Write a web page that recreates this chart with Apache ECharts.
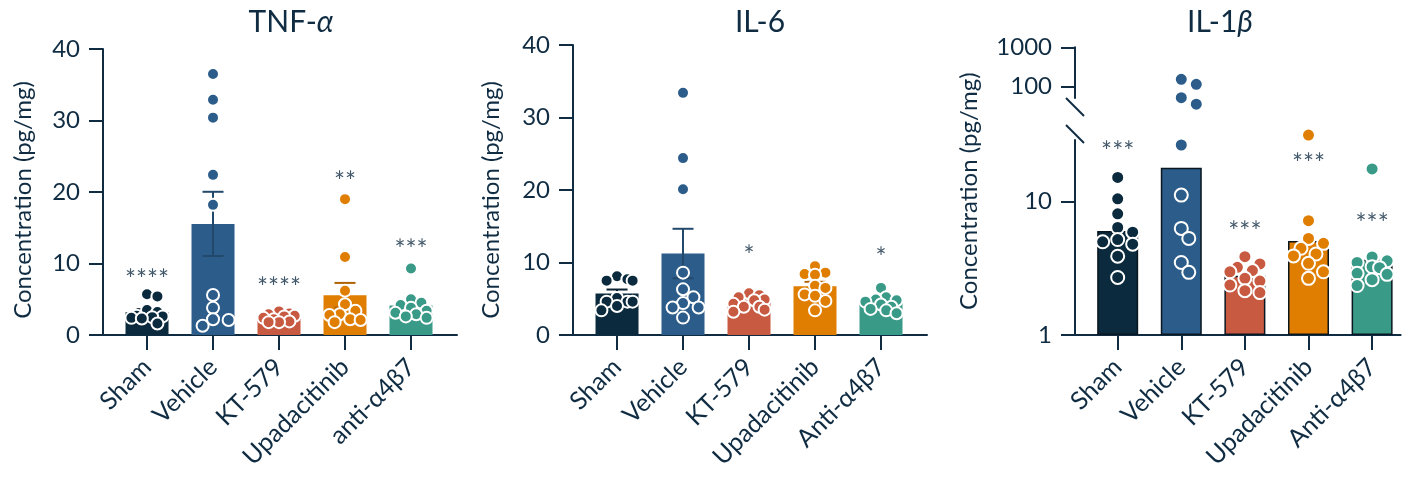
<!DOCTYPE html>
<html>
<head>
<meta charset="utf-8">
<script src="https://cdn.jsdelivr.net/npm/echarts@6/dist/echarts.min.js"></script>
<style>
  html, body { margin: 0; padding: 0; background: #ffffff; }
  #chart { width: 1406px; height: 482px; }
</style>
</head>
<body>
<div id="chart"></div>
<script>
// ---- data ----
const groups = ['Sham', 'Vehicle', 'KT-579', 'Upadacitinib', 'anti-α4β7'];
const groupsCap = ['Sham', 'Vehicle', 'KT-579', 'Upadacitinib', 'Anti-α4β7'];
const groupColors = ['#0b2a3d', '#2c5d8a', '#c75a40', '#df7e00', '#3a9a88'];

// TNF-α (pg/mg), one array per group
const tnfSham = [5.7, 5.4, 3.5, 3.2, 2.7, 2.6, 2.5, 2.4, 2.3, 1.6];
const tnfVehicle = [36.5, 32.9, 30.4, 22.4, 18.2, 5.6, 3.8, 2.2, 2.1, 1.3];
const tnfKT = [3.3, 3.0, 2.9, 2.7, 2.6, 2.4, 2.2, 1.9, 1.8, 1.8];
const tnfUpa = [19.0, 10.9, 6.2, 4.3, 3.4, 2.9, 2.8, 2.2, 2.1, 1.8];
const tnfAnti = [9.3, 5.0, 4.5, 4.2, 3.8, 3.4, 3.1, 2.9, 2.6, 2.4];
const tnfSig = ['****', '', '****', '**', '***'];
const tnfSigAt = [8.4, null, 7.3, 22.2, 12.6];

// IL-6 (pg/mg)
const il6Sham = [8.1, 7.7, 7.5, 7.5, 5.1, 4.6, 4.6, 4.6, 4.0, 3.4];
const il6Vehicle = [33.4, 24.4, 20.1, 8.6, 6.3, 5.2, 4.4, 3.8, 3.8, 2.4];
const il6KT = [5.75, 5.5, 5.2, 4.9, 4.8, 4.3, 3.9, 3.9, 3.5, 3.2];
const il6Upa = [9.5, 8.6, 8.4, 8.3, 6.8, 6.5, 5.6, 5.4, 4.7, 3.4];
const il6Anti = [6.5, 5.2, 4.9, 4.8, 4.6, 4.2, 3.9, 3.6, 3.4, 3.0];
const il6Sig = ['', '', '*', '', '*'];
const il6SigAt = [null, null, 11.6, null, 11.4];

// IL-1β (pg/mg), log axis
const il1Sham = [15.2, 10.5, 8.1, 6.4, 5.9, 5.2, 5.0, 4.8, 3.9, 2.7];
const il1Vehicle = [154, 115, 52.5, 36, 26.6, 11.2, 6.3, 5.3, 3.5, 2.95];
const il1KT = [3.87, 3.41, 3.22, 3.04, 2.98, 2.66, 2.54, 2.37, 2.15, 2.08];
const il1Upa = [31.6, 7.2, 5.3, 4.87, 4.47, 4.05, 3.92, 3.45, 2.98, 2.66];
const il1Anti = [17.6, 3.85, 3.6, 3.5, 3.25, 3.2, 2.9, 2.85, 2.6, 2.35];
const il1Sig = ['***', '', '***', '***', '***'];
const il1SigAt = [25.9, null, 6.5, 21.2, 7.5];

const logLowerTicks = [1, 10];
const logUpperTicks = [100, 1000];

// ---- helpers ----
const INK = '#102c42';
const FONT = 'Lato';
const mean = a => a.reduce((s, v) => s + v, 0) / a.length;
const sem = a => {
  const m = mean(a);
  const sd = Math.sqrt(a.reduce((s, v) => s + (v - m) * (v - m), 0) / (a.length - 1));
  return sd / Math.sqrt(a.length);
};
const geoMean = a => Math.pow(10, mean(a.map(v => Math.log10(v))));
function darker(hex, f) {
  const n = parseInt(hex.slice(1), 16);
  const r = Math.round(((n >> 16) & 255) * f), g = Math.round(((n >> 8) & 255) * f), b = Math.round((n & 255) * f);
  return 'rgb(' + r + ',' + g + ',' + b + ')';
}

// panel layout (pixels)
const L1 = { left: 103, top: 49, width: 354, height: 286 };
const L2 = { left: 573, top: 45, width: 354, height: 290 };
const L3lo = { left: 1075, top: 140, width: 325.6, height: 195 };
const L3hi = { left: 1075, top: 47.3, width: 325.6, height: 50.7 };
const X12 = [-0.667, 4.697];
const X3 = [-0.671, 4.448];
const LO_MAX = 29, HI_MIN = 51.6, HI_MAX = 1000, SPLIT = 34;

// beeswarm offsets (pixels): nearest free slot within the bar, else the least crowded one
function swarm(vals, yPx, d, step, cap) {
  const order = vals.map((v, i) => i).sort((a, b) => vals[b] - vals[a]);
  const placed = [];
  const off = new Array(vals.length).fill(0);
  const cands = [0];
  for (let k = 1; k * step <= cap; k++) { cands.push(k * step, -k * step); }
  for (const i of order) {
    const y = yPx(vals[i]);
    let best = 0, bestD = -1, chosen = null;
    for (const c of cands) {
      const md = placed.reduce((m, p) => Math.min(m, Math.hypot(p.x - c, p.y - y)), Infinity);
      if (md >= d) { chosen = c; break; }
      if (md > bestD) { bestD = md; best = c; }
    }
    if (chosen === null) chosen = best;
    off[i] = chosen;
    placed.push({ x: chosen, y: y });
  }
  return off;
}

const tnf = [tnfSham, tnfVehicle, tnfKT, tnfUpa, tnfAnti];
const il6 = [il6Sham, il6Vehicle, il6KT, il6Upa, il6Anti];
const il1 = [il1Sham, il1Vehicle, il1KT, il1Upa, il1Anti];

function yAxisBase(extra) {
  return Object.assign({
    type: 'value',
    axisLine: { show: true, onZero: false, lineStyle: { color: INK, width: 2 } },
    axisTick: { show: true, length: 14, lineStyle: { color: INK, width: 2 } },
    axisLabel: { color: INK, fontSize: 24, fontFamily: FONT, margin: 23 },
    splitLine: { show: false }
  }, extra);
}
function xAxisBase(range, cats, gridIndex) {
  return {
    type: 'value', gridIndex: gridIndex, min: range[0], max: range[1],
    axisLine: { show: true, onZero: false, lineStyle: { color: INK, width: 2 } },
    axisTick: { show: true, length: 15, customValues: [0, 1, 2, 3, 4], lineStyle: { color: INK, width: 2 } },
    axisLabel: {
      customValues: [0, 1, 2, 3, 4], rotate: 45, margin: 28,
      color: INK, fontSize: 25, fontFamily: FONT,
      formatter: v => cats[Math.round(v)]
    },
    splitLine: { show: false }
  };
}
// hidden axis that only carries the rotated axis title
function nameAxis(gridIndex, gap) {
  return { type: 'value', gridIndex: gridIndex, min: 0, max: 1, name: 'Concentration (pg/mg)', nameLocation: 'middle', nameGap: gap,
    nameTextStyle: { color: INK, fontSize: 24, fontFamily: FONT },
    axisLine: { show: false }, axisTick: { show: false }, axisLabel: { show: false }, splitLine: { show: false } };
}

const series = [];
const DOT = 12;
const sigLabel = { show: true, position: 'inside', offset: [0, 6], color: INK, fontSize: 26, fontFamily: FONT, formatter: p => p.data.txt };

function addLinearPanel(data, sig, sigAt, gi, L, xr) {
  const ymax = 40;
  const pxu = L.width / (xr[1] - xr[0]);
  const yPx = v => L.top + L.height - v * L.height / ymax;
  series.push({
    type: 'bar', xAxisIndex: gi, yAxisIndex: gi, barWidth: 43, z: 1,
    data: data.map((a, g) => ({ value: [g, mean(a)], itemStyle: { color: groupColors[g] } }))
  });
  series.push({
    type: 'custom', xAxisIndex: gi, yAxisIndex: gi, z: 2,
    data: data.map((a, g) => [g, mean(a) - sem(a), mean(a) + sem(a), g]),
    encode: { x: 0, y: [1, 2] },
    renderItem: (params, api) => {
      const x = api.value(0), lo = api.value(1), hi = api.value(2);
      const c = darker(groupColors[api.value(3)], 0.78);
      const pLo = api.coord([x, lo]), pHi = api.coord([x, hi]);
      const st = { stroke: c, lineWidth: 2 };
      return { type: 'group', children: [
        { type: 'line', shape: { x1: pLo[0], y1: pLo[1], x2: pHi[0], y2: pHi[1] }, style: st },
        { type: 'line', shape: { x1: pHi[0] - 10.5, y1: pHi[1], x2: pHi[0] + 10.5, y2: pHi[1] }, style: st },
        { type: 'line', shape: { x1: pLo[0] - 10.5, y1: pLo[1], x2: pLo[0] + 10.5, y2: pLo[1] }, style: st }
      ] };
    }
  });
  const pts = [];
  data.forEach((a, g) => {
    const off = swarm(a, yPx, 10.5, 5.2, 16);
    a.forEach((v, i) => pts.push({ value: [g + off[i] / pxu, v], itemStyle: { color: groupColors[g] } }));
  });
  series.push({
    type: 'scatter', xAxisIndex: gi, yAxisIndex: gi, z: 3, symbolSize: DOT,
    itemStyle: { borderColor: '#ffffff', borderWidth: 2, opacity: 1 },
    data: pts
  });
  series.push({
    type: 'scatter', xAxisIndex: gi, yAxisIndex: gi, z: 4, symbolSize: 1,
    itemStyle: { color: 'rgba(0,0,0,0)' }, label: sigLabel,
    data: sig.map((s, g) => ({ value: [g, sigAt[g]], txt: s })).filter(d => d.txt)
  });
}

addLinearPanel(tnf, tnfSig, tnfSigAt, 0, L1, X12);
addLinearPanel(il6, il6Sig, il6SigAt, 1, L2, X12);

// IL-1β: lower (grid 2) and upper (grid 3) segments of a broken log axis
(function () {
  const pxu = L3lo.width / (X3[1] - X3[0]);
  const yPx = v => v <= SPLIT
    ? L3lo.top + L3lo.height - Math.log10(v) * L3lo.height / Math.log10(LO_MAX)
    : L3hi.top + (Math.log10(HI_MAX) - Math.log10(v)) * L3hi.height / (Math.log10(HI_MAX) - Math.log10(HI_MIN));
  series.push({
    type: 'bar', xAxisIndex: 2, yAxisIndex: 2, barWidth: 41, z: 1,
    data: il1.map((a, g) => ({ value: [g, geoMean(a)], itemStyle: { color: groupColors[g], borderColor: '#0a1620', borderWidth: 1.5 } }))
  });
  const lo = [], hi = [];
  il1.forEach((a, g) => {
    const off = swarm(a, yPx, 11.5, 7.5, 16);
    a.forEach((v, i) => (v <= SPLIT ? lo : hi).push({ value: [g + off[i] / pxu, v], itemStyle: { color: groupColors[g] } }));
  });
  const dot = { type: 'scatter', z: 3, symbolSize: DOT + 1, clip: false,
    itemStyle: { borderColor: '#ffffff', borderWidth: 2, opacity: 1 } };
  series.push(Object.assign({}, dot, { xAxisIndex: 2, yAxisIndex: 2, data: lo }));
  series.push(Object.assign({}, dot, { xAxisIndex: 3, yAxisIndex: 3, data: hi }));
  series.push({
    type: 'scatter', xAxisIndex: 2, yAxisIndex: 2, z: 4, symbolSize: 1, clip: false,
    itemStyle: { color: 'rgba(0,0,0,0)' }, label: sigLabel,
    data: il1Sig.map((s, g) => ({ value: [g, il1SigAt[g]], txt: s })).filter(d => d.txt)
  });
})();

const titleRich = {
  n: { fontSize: 30, fontFamily: FONT, color: INK, fontWeight: 'normal' },
  i: { fontSize: 30, fontFamily: FONT, color: INK, fontWeight: 'normal', fontStyle: 'italic' }
};
function gridOf(L) {
  return { left: L.left, top: L.top, width: L.width, height: L.height, containLabel: false, outerBoundsMode: 'none' };
}

const option = {
  animation: false,
  backgroundColor: '#ffffff',
  title: [
    { text: '{n|TNF-}{i|α}', left: 286, top: 2, textAlign: 'center', textStyle: { fontWeight: 'normal', rich: titleRich } },
    { text: '{n|IL-6}', left: 755, top: 2, textAlign: 'center', textStyle: { fontWeight: 'normal', rich: titleRich } },
    { text: '{n|IL-1}{i|β}', left: 1215, top: 2, textAlign: 'center', textStyle: { fontWeight: 'normal', rich: titleRich } }
  ],
  grid: [gridOf(L1), gridOf(L2), gridOf(L3lo), gridOf(L3hi),
         gridOf({ left: L1.left, top: 65, width: 10, height: 270 }),
         gridOf({ left: L2.left, top: 65, width: 10, height: 270 }),
         gridOf({ left: L3hi.left, top: L3hi.top, width: 10, height: L3lo.top + L3lo.height - L3hi.top })],
  xAxis: [
    xAxisBase(X12, groups, 0),
    xAxisBase(X12, groupsCap, 1),
    xAxisBase(X3, groupsCap, 2),
    { type: 'value', gridIndex: 3, min: X3[0], max: X3[1], show: false },
    { type: 'value', gridIndex: 4, min: 0, max: 1, show: false },
    { type: 'value', gridIndex: 5, min: 0, max: 1, show: false },
    { type: 'value', gridIndex: 6, min: 0, max: 1, show: false }
  ],
  yAxis: [
    yAxisBase({ gridIndex: 0, min: 0, max: 40, interval: 10 }),
    yAxisBase({ gridIndex: 1, min: 0, max: 40, interval: 10 }),
    yAxisBase({ gridIndex: 2, type: 'log', logBase: 10, min: 1, max: LO_MAX,
      axisTick: { show: true, length: 14, customValues: logLowerTicks, lineStyle: { color: INK, width: 2 } },
      axisLabel: { color: INK, fontSize: 24, fontFamily: FONT, margin: 23, customValues: logLowerTicks, formatter: v => String(v) } }),
    yAxisBase({ gridIndex: 3, type: 'log', logBase: 10, min: HI_MIN, max: HI_MAX,
      axisTick: { show: true, length: 14, customValues: logUpperTicks, lineStyle: { color: INK, width: 2 } },
      axisLabel: { color: INK, fontSize: 24, fontFamily: FONT, margin: 23, customValues: logUpperTicks, formatter: v => String(v) } }),
    nameAxis(4, 68),
    nameAxis(5, 70),
    nameAxis(6, 94)
  ],
  series: series
};

const chart = echarts.init(document.getElementById('chart'), null, { renderer: 'canvas' });
chart.setOption(option);

// break marks on the IL-1β axis, placed from the segment edges
const ax = L3lo.left;
const hiEnd = L3hi.top + L3hi.height;
const loEnd = L3lo.top;
chart.setOption({
  graphic: [
    { type: 'line', z: 10, shape: { x1: ax - 9, y1: hiEnd, x2: ax + 9, y2: hiEnd + 18 }, style: { stroke: INK, lineWidth: 2 } },
    { type: 'line', z: 10, shape: { x1: ax - 9, y1: loEnd - 15, x2: ax + 9, y2: loEnd + 3 }, style: { stroke: INK, lineWidth: 2 } }
  ]
});
</script>
</body>
</html>
